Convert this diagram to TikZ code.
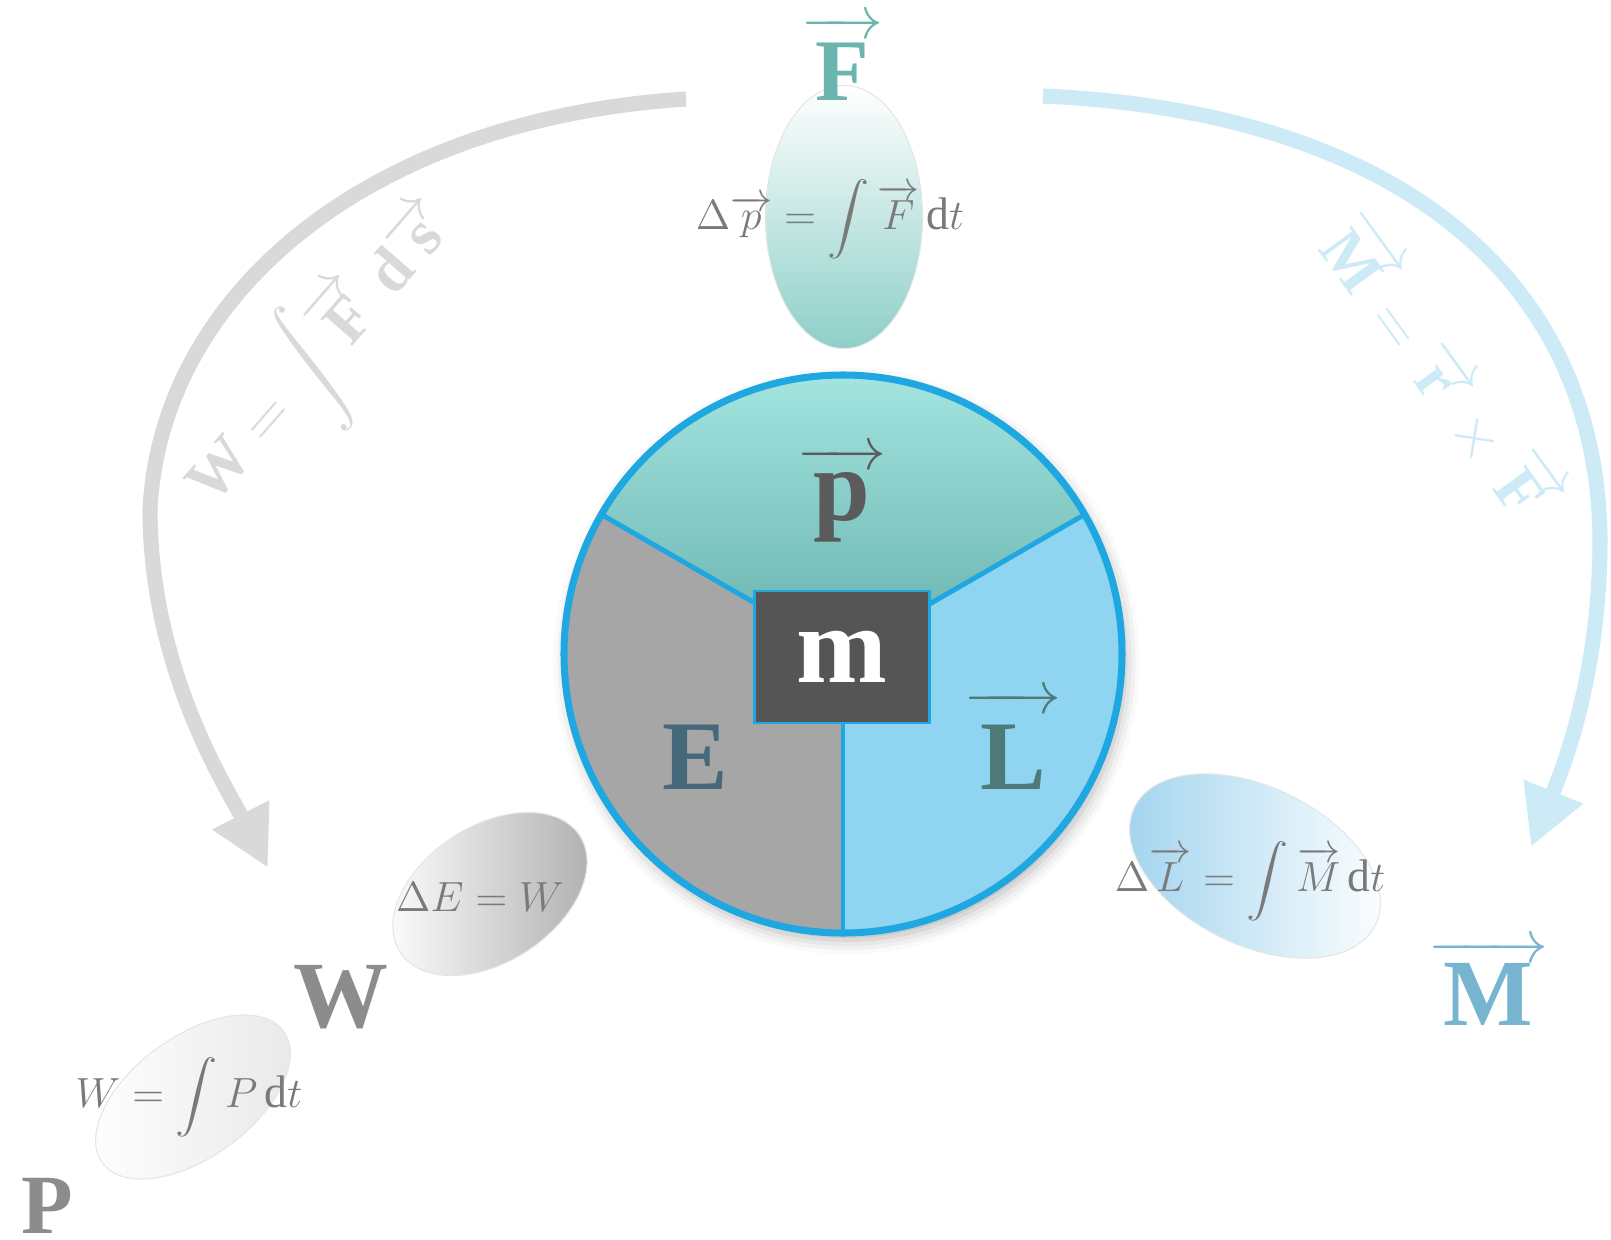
\documentclass[tikz,border=0pt]{standalone}
\usepackage{amsmath}
\usepackage{fontspec}
\setmainfont{Liberation Serif}
\usetikzlibrary{arrows.meta,shapes.geometric,shadows.blur}

\definecolor{rimblue}{HTML}{1EA7E1}
\definecolor{ptop}{HTML}{A4E5E0}
\definecolor{pbot}{HTML}{68B1AD}
\definecolor{egray}{HTML}{A6A6A6}
\definecolor{lblue}{HTML}{8FD4F1}
\definecolor{massbox}{HTML}{555555}
\definecolor{ptext}{HTML}{5B5B5B}
\definecolor{etext}{HTML}{45687A}
\definecolor{ltext}{HTML}{4E7B77}
\definecolor{ftext}{HTML}{6BB5AE}
\definecolor{mtext}{HTML}{76B4D0}
\definecolor{wtext}{HTML}{8C8C8C}
\definecolor{fgray}{HTML}{7A7A7A}
\definecolor{arcgray}{HTML}{D9D9D9}
\definecolor{arcblue}{HTML}{CDEBF7}
\definecolor{ovteal}{HTML}{8ECFC8}
\definecolor{ovblue}{HTML}{A0D3EE}

\newcommand{\tallint}{\mathop{\vcenter{\hbox{\scalebox{1}[0.85]{$\displaystyle\int$}}}}\nolimits}
\newcommand{\bigvec}[2][0.8em]{\begingroup
    \setbox0\hbox{\kern0.16em#2\kern0.16em\rule{0pt}{#1}}%
    \fontsize{19}{22}\selectfont$\overrightarrow{\copy0}$\endgroup}

\begin{document}
\begin{tikzpicture}[x=0.1mm, y=-0.1mm,
    bigsym/.style={font=\fontsize{27}{30}\selectfont\bfseries},
    eqn/.style={text=fgray, font=\fontsize{13}{15}\selectfont},
    oval/.style={ellipse, draw=black!10, line width=0.3pt, inner sep=0pt},
    arclabel/.style={font=\fontsize{18}{21}\selectfont\bfseries},
    bigarc/.style={line width=4.3pt, -{Triangle[length=17pt,width=17pt]}},
    divider/.style={rimblue, line width=1.4pt}]
    \useasboundingbox (0,0) rectangle (1611,1240);

    \coordinate (wstart) at (686,99);
    \coordinate (wend) at (268,868);
    \coordinate (tstart) at (1043,96);
    \coordinate (tend) at (1531,847);
    \draw[bigarc, arcgray] (wstart) .. controls (360,120) and (160,300) .. (150,510)
        .. controls (150,670) and (228,790) .. (wend);
    \draw[bigarc, arcblue] (tstart) .. controls (1400,112) and (1598,280) .. (1600,540)
        .. controls (1600,680) and (1560,775) .. (tend);

    \node[arclabel, text=arcgray, rotate=49] (worklabel) at (324,356)
        {W $=\displaystyle\int$\bigvec[0.62em]{F} d\bigvec[0.42em]{s}};
    \node[arclabel, text=arcblue, rotate=-54] (torquelabel) at (1440,368)
        {\bigvec[0.62em]{M} $=$ \bigvec[0.42em]{r} $\times$ \bigvec[0.62em]{F}};

    \node[oval, minimum width=15.7mm, minimum height=26.3mm, top color=white, bottom color=ovteal] (impulse) at (844,217) {};
    \node[eqn] (impulseeq) at (830,219) {$\Delta\overrightarrow{p} = \tallint \overrightarrow{F}\,\mathrm{d}t$};
    \node[bigsym, text=ftext, anchor=base, font=\fontsize{25}{28}\selectfont\bfseries] (force) at (842,100) {\bigvec[0.7em]{F}};

    \node[oval, minimum width=21.4mm, minimum height=13.6mm, rotate=33, left color=white, right color=black!32] (work) at (490,894) {};
    \node[eqn] (workeq) at (480,897) {$\Delta E = W$};
    \node[bigsym, text=wtext, anchor=base] (worksym) at (341,1027) {W};

    \node[oval, minimum width=22.4mm, minimum height=12.1mm, rotate=36, left color=white, right color=black!9] (power) at (193,1097) {};
    \node[eqn] (powereq) at (189,1097) {$W = \tallint P\,\mathrm{d}t$};
    \node[bigsym, text=wtext, anchor=base, font=\fontsize{24}{27}\selectfont\bfseries] (powersym) at (47,1233) {P};

    \node[oval, minimum width=26.8mm, minimum height=15.8mm, rotate=-26, left color=ovblue, right color=white] (torque) at (1255,866) {};
    \node[eqn] (torqueeq) at (1250,881) {$\Delta\overrightarrow{L} = \tallint \overrightarrow{M}\,\mathrm{d}t$};
    \node[bigsym, text=mtext, anchor=base] (torquesym) at (1488,1025) {\bigvec[0.65em]{M}};

    \coordinate (ctr) at (843,654);
    \coordinate (rimL) at (601.4,514.5);
    \coordinate (rimR) at (1084.6,514.5);
    \coordinate (rimB) at (843,933);
    \fill[egray, blur shadow={shadow xshift=1pt, shadow yshift=-2pt, shadow blur radius=4pt, shadow opacity=30}] (ctr) circle (279);
    \begin{scope}
        \clip (ctr) circle (279);
        \shade[top color=ptop, bottom color=pbot] (ctr) -- (496.6,454) -- (496.6,370) -- (1189.4,370) -- (1189.4,454) -- cycle;
        \fill[lblue] (ctr) -- (1189.4,454) -- (1189.4,950) -- (843,950) -- cycle;
    \end{scope}
    \draw[divider] (ctr) -- (rimL);
    \draw[divider] (ctr) -- (rimR);
    \draw[divider] (ctr) -- (rimB);
    \draw[rimblue, line width=2pt] (ctr) circle (279);

    \node[fill=massbox, draw=rimblue, line width=0.6pt, minimum width=49.8pt, minimum height=37.8pt,
        text=white, font=\fontsize{31}{34}\selectfont\bfseries] (mass) at (842,657) {m};
    \node[bigsym, text=ptext, anchor=base, font=\fontsize{29}{32}\selectfont\bfseries] (mom) at (842,520) {\bigvec[0.5em]{p}};
    \node[bigsym, text=etext, anchor=base, font=\fontsize{28}{31}\selectfont\bfseries] (energy) at (695,789) {E};
    \node[bigsym, text=ltext, anchor=base, font=\fontsize{28}{31}\selectfont\bfseries] (angmom) at (1013,789) {\bigvec[0.77em]{L}};
\end{tikzpicture}
\end{document}
